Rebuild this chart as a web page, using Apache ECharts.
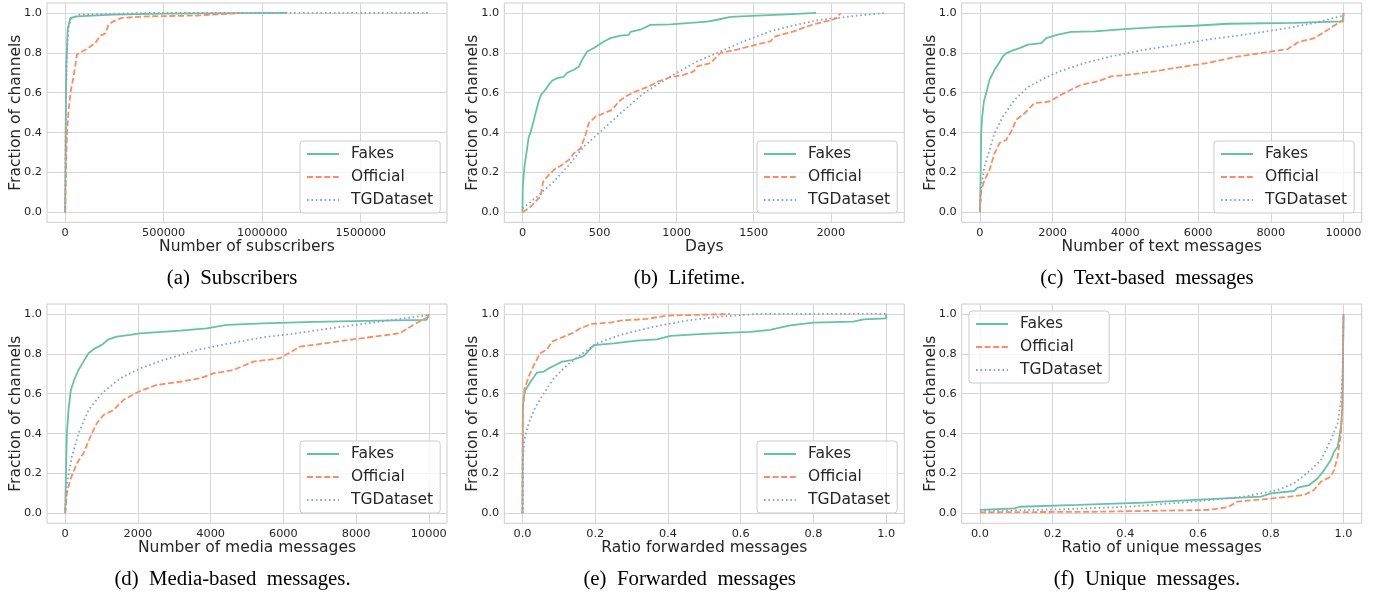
<!DOCTYPE html>
<html><head><meta charset="utf-8">
<script src="https://cdn.jsdelivr.net/npm/echarts@6/dist/echarts.min.js"></script>
<style>html,body{margin:0;padding:0;background:#fff;}#c{width:1376px;height:593px;}</style>
</head><body><div id="c"></div>
<script>
// ---------- data ----------
const seriesNames = ['Fakes', 'Official', 'TGDataset'];
const yTicks = [0, 0.2, 0.4, 0.6, 0.8, 1.0];

// (a) subscribers
const subsTicks = [0, 500000, 1000000, 1500000];
const subsFakes = [[0,0],[2400,0.397],[5700,0.732],[12500,0.916],[26000,0.975],[60000,0.983],[245000,0.992],[498000,0.997],[1127000,1.0]];
const subsOfficial = [[0,0],[4000,0.229],[9100,0.397],[17500,0.514],[29400,0.615],[42900,0.682],[59700,0.791],[76600,0.802],[110000,0.819],[152600,0.849],[178000,0.886],[203000,0.896],[220000,0.941],[245000,0.958],[287000,0.975],[414000,0.983],[667000,0.987],[888000,1.0]];
const subsTG = [[0,0],[4000,0.565],[9100,0.816],[17500,0.933],[34400,0.975],[76600,0.992],[414000,1.0],[1846000,1.0]];

// (b) lifetime
const lifeTicks = [0, 500, 1000, 1500, 2000];
const lifeFakes = [[0,0],[2,0.13],[13,0.23],[26,0.30],[41,0.38],[52,0.40],[73,0.46],[89,0.51],[106,0.56],[121,0.59],[149,0.615],[171,0.64],[192,0.66],[225,0.673],[268,0.68],[290,0.70],[333,0.715],[365,0.73],[387,0.765],[420,0.807],[463,0.824],[495,0.84],[528,0.857],[571,0.874],[636,0.886],[690,0.89],[700,0.905],[765,0.916],[830,0.94],[960,0.943],[1090,0.95],[1198,0.957],[1263,0.966],[1349,0.98],[1522,0.987],[1717,0.993],[1905,1.0]];
const lifeOfficial = [[0,0],[41,0.02],[95,0.062],[117,0.079],[134,0.154],[171,0.188],[203,0.213],[257,0.238],[301,0.263],[333,0.296],[376,0.32],[409,0.389],[430,0.447],[474,0.48],[528,0.497],[582,0.514],[625,0.556],[668,0.581],[733,0.606],[809,0.628],[884,0.657],[960,0.678],[1046,0.69],[1111,0.707],[1133,0.732],[1219,0.749],[1284,0.799],[1392,0.816],[1500,0.838],[1608,0.858],[1641,0.883],[1760,0.908],[1879,0.941],[1998,0.963],[2041,0.975],[2063,1.0]];
const lifeTG = [[0,0.02],[95,0.079],[203,0.154],[311,0.246],[398,0.33],[506,0.405],[636,0.497],[787,0.598],[960,0.682],[1133,0.757],[1284,0.807],[1436,0.858],[1608,0.908],[1781,0.941],[1911,0.963],[2041,0.975],[2171,0.987],[2359,1.0]];

// (c) text messages
const textTicks = [0, 2000, 4000, 6000, 8000, 10000];
const textFakes = [[0,0],[18,0.16],[37,0.40],[64,0.48],[110,0.556],[174,0.598],[266,0.665],[403,0.715],[495,0.74],[632,0.782],[724,0.799],[907,0.812],[1091,0.824],[1320,0.841],[1687,0.849],[1824,0.874],[2145,0.891],[2511,0.905],[3153,0.908],[4070,0.92],[4986,0.93],[5903,0.936],[6820,0.946],[8653,0.95],[9982,0.958],[10000,1.0]];
const textOfficial = [[0,0],[37,0.112],[128,0.162],[266,0.213],[403,0.296],[541,0.347],[724,0.363],[862,0.405],[999,0.464],[1228,0.497],[1503,0.548],[1916,0.556],[2236,0.59],[2786,0.64],[3245,0.657],[3611,0.682],[4070,0.69],[4803,0.707],[5353,0.724],[6270,0.749],[7003,0.779],[7736,0.799],[8470,0.819],[8744,0.853],[9202,0.874],[9569,0.916],[10000,0.966],[10000,1.0]];
const textTG = [[0,0.012],[37,0.13],[128,0.23],[266,0.313],[403,0.397],[632,0.48],[953,0.564],[1320,0.628],[1778,0.673],[2236,0.71],[2878,0.749],[3611,0.782],[4528,0.816],[5445,0.841],[6361,0.869],[7278,0.891],[8195,0.916],[9111,0.946],[10000,0.987]];

// (d) media messages
const mediaTicks = [0, 2000, 4000, 6000, 8000, 10000];
const mediaFakes = [[0,0],[18,0.167],[46,0.40],[92,0.518],[156,0.619],[247,0.669],[366,0.719],[504,0.761],[641,0.803],[824,0.828],[1007,0.845],[1191,0.873],[1420,0.886],[1786,0.895],[2060,0.903],[3159,0.916],[3892,0.928],[4442,0.945],[5449,0.953],[6823,0.96],[8654,0.967],[9937,0.97],[10000,1.0]];
const mediaOfficial = [[0,0],[46,0.10],[137,0.167],[321,0.251],[504,0.301],[733,0.401],[870,0.452],[1053,0.493],[1328,0.518],[1603,0.569],[2015,0.61],[2518,0.644],[3159,0.66],[3709,0.677],[4075,0.702],[4625,0.719],[5174,0.761],[5907,0.778],[6456,0.836],[7280,0.856],[7922,0.873],[9204,0.903],[9570,0.945],[10000,0.987],[10000,1.0]];
const mediaTG = [[0,0.017],[46,0.15],[183,0.284],[366,0.401],[641,0.518],[1007,0.602],[1511,0.677],[2060,0.727],[2702,0.769],[3617,0.819],[4533,0.853],[5449,0.883],[6365,0.903],[7280,0.928],[8196,0.95],[9112,0.973],[10000,0.995]];

// (e) forwarded ratio
const fwdTicks = [0, 0.2, 0.4, 0.6, 0.8, 1.0];
const fwdFakes = [[0,0],[0.001,0.535],[0.004,0.585],[0.008,0.619],[0.022,0.66],[0.04,0.706],[0.059,0.711],[0.072,0.727],[0.091,0.744],[0.109,0.761],[0.136,0.769],[0.168,0.789],[0.196,0.844],[0.251,0.853],[0.315,0.866],[0.37,0.873],[0.407,0.89],[0.498,0.90],[0.626,0.91],[0.681,0.92],[0.736,0.943],[0.8,0.957],[0.91,0.962],[0.938,0.973],[1.0,0.978],[1.0,1.0]];
const fwdOfficial = [[0,0],[0.001,0.518],[0.005,0.619],[0.017,0.686],[0.036,0.761],[0.049,0.803],[0.068,0.823],[0.081,0.861],[0.109,0.883],[0.136,0.903],[0.159,0.928],[0.191,0.95],[0.242,0.957],[0.269,0.967],[0.342,0.975],[0.397,0.992],[0.471,0.995],[0.571,1.0]];
const fwdTG = [[0,0],[0.001,0.268],[0.005,0.368],[0.017,0.452],[0.036,0.535],[0.059,0.602],[0.086,0.677],[0.123,0.744],[0.159,0.794],[0.205,0.853],[0.269,0.895],[0.361,0.936],[0.452,0.967],[0.544,0.987],[0.645,1.0],[1.0,1.0]];

// (f) unique ratio
const uniqTicks = [0, 0.2, 0.4, 0.6, 0.8, 1.0];
const uniqFakes = [[0,0.017],[0.095,0.025],[0.109,0.033],[0.269,0.042],[0.452,0.054],[0.59,0.067],[0.773,0.084],[0.8,0.10],[0.864,0.112],[0.874,0.129],[0.906,0.142],[0.929,0.176],[0.947,0.217],[0.965,0.268],[0.974,0.309],[0.984,0.334],[0.993,0.435],[0.997,0.535],[1.0,1.0]];
const uniqOfficial = [[0,0.005],[0.315,0.008],[0.626,0.017],[0.681,0.030],[0.709,0.059],[0.8,0.074],[0.892,0.092],[0.919,0.117],[0.938,0.159],[0.965,0.184],[0.974,0.217],[0.984,0.284],[0.993,0.401],[0.996,0.502],[1.0,1.0]];
const uniqTG = [[0,0.012],[0.223,0.02],[0.407,0.033],[0.59,0.059],[0.727,0.084],[0.819,0.117],[0.864,0.151],[0.91,0.217],[0.938,0.268],[0.965,0.368],[0.984,0.452],[0.993,0.569],[0.998,0.702],[1.0,1.0]];

const xNames = ['Number of subscribers', 'Days', 'Number of text messages', 'Number of media messages', 'Ratio forwarded messages', 'Ratio of unique messages'];
const captions = ['(a)\u2002Subscribers', '(b)\u2002Lifetime.', '(c)\u2002Text-based\u2002messages', '(d)\u2002Media-based\u2002messages.', '(e)\u2002Forwarded\u2002messages', '(f)\u2002Unique\u2002messages.'];

// ---------- layout / style ----------
const panelData = [
  [subsFakes, subsOfficial, subsTG],
  [lifeFakes, lifeOfficial, lifeTG],
  [textFakes, textOfficial, textTG],
  [mediaFakes, mediaOfficial, mediaTG],
  [fwdFakes, fwdOfficial, fwdTG],
  [uniqFakes, uniqOfficial, uniqTG]
];
const panelTicks = [subsTicks, lifeTicks, textTicks, mediaTicks, fwdTicks, uniqTicks];
const panelDecimals = [0, 0, 0, 0, 1, 1];
const colLeft = [47, 504.3, 961.7];
const rowTop = [3, 304];
const gridW = 400, gridH = 219.3;
const legendPos = [[300, 141], [757, 141], [1214, 141], [300, 441], [757, 441], [969, 311]];
const captionPos = [[232, 279], [689.5, 279], [1147, 279], [232.5, 580], [689.7, 580], [1147, 580]];
const colors = ['#66c2a5', '#fc8d62', '#8da0cb'];
const dashes = ['solid', [6, 2.6], [1.6, 2.8]];
const FONT = 'DejaVu Sans';
const TXT = '#262626';

const grids = [], xAxes = [], yAxes = [], series = [], legends = [], graphics = [];
panelData.forEach((sets, i) => {
  const col = i % 3, row = Math.floor(i / 3);
  grids.push({left: colLeft[col], top: rowTop[row], width: gridW, height: gridH,
    show: true, borderColor: '#cccccc', borderWidth: 1, backgroundColor: '#fff'});
  let lo = Infinity, hi = -Infinity;
  sets.forEach(s => s.forEach(p => { lo = Math.min(lo, p[0]); hi = Math.max(hi, p[0]); }));
  const span = hi - lo;
  const dec = panelDecimals[i];
  xAxes.push({type: 'value', gridIndex: i, min: lo - 0.05 * span, max: hi + 0.05 * span,
    axisLine: {show: false},
    axisTick: {show: false, customValues: panelTicks[i]},
    axisLabel: {customValues: panelTicks[i], fontSize: 11.3, color: TXT, fontFamily: FONT, margin: 5,
      formatter: v => Number(v).toFixed(dec)},
    splitLine: {show: true, lineStyle: {color: '#d6d6d6', width: 1}},
    name: xNames[i], nameLocation: 'middle', nameGap: 15,
    nameTextStyle: {fontSize: 15.5, color: TXT, fontFamily: FONT}
  });
  yAxes.push({type: 'value', gridIndex: i, min: -0.05, max: 1.05,
    axisLine: {show: false},
    axisTick: {show: false, customValues: yTicks},
    axisLabel: {customValues: yTicks, fontSize: 11.3, color: TXT, fontFamily: FONT, margin: 5,
      formatter: v => Number(v).toFixed(1)},
    splitLine: {show: true, lineStyle: {color: '#d6d6d6', width: 1}},
    name: 'Fraction of channels', nameLocation: 'middle', nameGap: 23, nameMoveOverlap: false,
    nameTextStyle: {fontSize: 15.5, color: TXT, fontFamily: FONT}
  });
  sets.forEach((d, k) => {
    series.push({type: 'line', name: seriesNames[k], xAxisIndex: i, yAxisIndex: i, data: d,
      symbol: 'none', showSymbol: false, smooth: false, silent: true,
      itemStyle: {color: colors[k]},
      lineStyle: {color: colors[k], width: 1.8, type: dashes[k]}});
  });
  legends.push({orient: 'vertical', left: legendPos[i][0], top: legendPos[i][1],
    data: seriesNames, selectedMode: false, itemWidth: 32, itemHeight: 14, itemGap: 7,
    padding: [5, 7, 5, 6], backgroundColor: 'rgba(255,255,255,0.8)',
    borderColor: '#cccccc', borderWidth: 1, borderRadius: 3,
    itemStyle: {opacity: 0},
    textStyle: {fontSize: 15.5, color: TXT, fontFamily: FONT, lineHeight: 16, padding: [0, 0, 0, 7]}
  });
  graphics.push({type: 'text', x: captionPos[i][0], y: captionPos[i][1],
    style: {text: captions[i], font: '20.8px "Liberation Serif"', fill: '#000',
      align: 'center', verticalAlign: 'middle'}});
});

const chart = echarts.init(document.getElementById('c'), null, {renderer: 'canvas'});
chart.setOption({animation: false, backgroundColor: '#fff',
  grid: grids, xAxis: xAxes, yAxis: yAxes, series: series, legend: legends, graphic: graphics});
</script>
</body></html>
